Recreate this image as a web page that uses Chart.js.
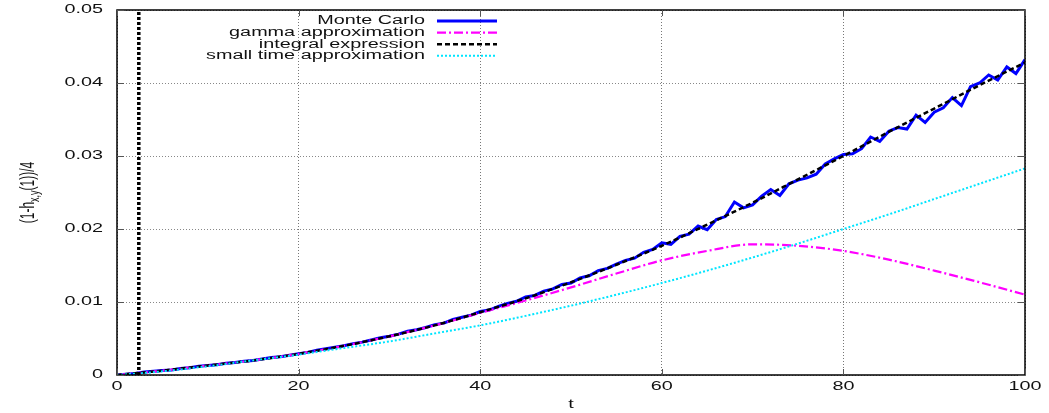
<!DOCTYPE html>
<html>
<head>
<meta charset="utf-8">
<script src="https://cdn.jsdelivr.net/npm/chart.js@4.4.1/dist/chart.umd.min.js"></script>
<style>
  body { margin: 0; background: #fff; }
  canvas { display: block; }
</style>
</head>
<body>
<canvas id="chartHitting" width="1049" height="413"></canvas>
<script>
// Monte Carlo estimate, sampled at t = 0, 1, ..., 100
const mcT = [];
for (let i = 0; i <= 100; i++) mcT.push(i);
const monteCarlo = [
  0.0000, 0.0001, 0.0002, 0.0004, 0.0005, 0.0006, 0.0007, 0.0009, 0.0010, 0.0012,
  0.0013, 0.0014, 0.0016, 0.0017, 0.0019, 0.0020, 0.0022, 0.0024, 0.0025, 0.0027,
  0.0029, 0.0031, 0.0034, 0.0036, 0.0038, 0.0040, 0.0043, 0.0045, 0.0048, 0.0051,
  0.0053, 0.0056, 0.0060, 0.0062, 0.0065, 0.0069, 0.0071, 0.0076, 0.0079, 0.0082,
  0.0087, 0.0089, 0.0094, 0.0098, 0.0101, 0.0107, 0.0109, 0.0115, 0.0118, 0.0124,
  0.0126, 0.0133, 0.0136, 0.0143, 0.0146, 0.0152, 0.0157, 0.0160, 0.0168, 0.0172,
  0.0181, 0.0179, 0.0190, 0.0193, 0.0204, 0.0199, 0.0213, 0.0217, 0.0237, 0.0229,
  0.0233, 0.0245, 0.0254, 0.0246, 0.0262, 0.0267, 0.0270, 0.0275, 0.0289, 0.0296,
  0.0302, 0.0303, 0.0310, 0.0326, 0.0320, 0.0334, 0.0339, 0.0337, 0.0356, 0.0346,
  0.0360, 0.0366, 0.0380, 0.0369, 0.0395, 0.0400, 0.0411, 0.0404, 0.0422, 0.0413,
  0.0432
];

// analytic curves, every 5 time units
const curveT = [0, 5, 10, 15, 20, 25, 30, 35, 40, 45, 50, 55, 60, 65, 70, 75, 80, 85, 90, 95, 100];
const gammaApprox = [0, 0.0006, 0.0013, 0.0020, 0.0029, 0.0040, 0.0053, 0.0068, 0.0085, 0.0102,
  0.0120, 0.0139, 0.0157, 0.0170, 0.0179, 0.0177, 0.0170, 0.0158, 0.0143, 0.0127, 0.0110];
const integralExpr = [0, 0.0006, 0.0013, 0.0020, 0.0029, 0.0040, 0.0053, 0.0068, 0.0086, 0.0105,
  0.0127, 0.0151, 0.0177, 0.0206, 0.0236, 0.0268, 0.0300, 0.0333, 0.0365, 0.0397, 0.0428];
const smallTime = [0, 0.0005, 0.0012, 0.0020, 0.0028, 0.0037, 0.0046, 0.0057, 0.0068, 0.0081,
  0.0095, 0.0110, 0.0126, 0.0143, 0.0161, 0.0180, 0.0200, 0.0220, 0.0241, 0.0262, 0.0283];

// vertical marker line
const markerT = [2.4, 2.4];
const markerY = [0, 0.05];

const xTicks = [0, 20, 40, 60, 80, 100];
const yTicks = [0, 0.01, 0.02, 0.03, 0.04, 0.05];

const pts = (xs, ys) => xs.map((x, i) => ({ x: x, y: ys[i] }));

const FONT = '12px "Liberation Sans", Arial, sans-serif';
const STRETCH = 1.65;

function wideText(ctx, str, x, y, align, base) {
  ctx.save();
  ctx.translate(x, y);
  ctx.scale(STRETCH, 1);
  ctx.textAlign = align;
  ctx.textBaseline = base || 'middle';
  ctx.fillText(str, 0, 0);
  ctx.restore();
}

// border box, inward ticks, tick labels, axis titles, key
const gnuFrame = {
  id: 'gnuFrame',
  afterDraw(chart) {
    const ctx = chart.ctx;
    const a = chart.chartArea;
    const xs = chart.scales.x, ys = chart.scales.y;
    ctx.save();
    ctx.strokeStyle = '#000';
    ctx.lineWidth = 1.5;
    ctx.setLineDash([]);
    ctx.strokeRect(a.left, a.top, a.right - a.left, a.bottom - a.top);

    ctx.lineWidth = 1;
    ctx.strokeStyle = '#555';
    xTicks.forEach(v => {
      const px = Math.round(xs.getPixelForValue(v)) + 0.5;
      ctx.beginPath();
      ctx.moveTo(px, a.bottom); ctx.lineTo(px, a.bottom - 6);
      ctx.moveTo(px, a.top); ctx.lineTo(px, a.top + 6);
      ctx.stroke();
    });
    yTicks.forEach(v => {
      const py = Math.round(ys.getPixelForValue(v)) + 0.5;
      ctx.beginPath();
      ctx.moveTo(a.left, py); ctx.lineTo(a.left + 7, py);
      ctx.moveTo(a.right, py); ctx.lineTo(a.right - 7, py);
      ctx.stroke();
    });

    ctx.fillStyle = '#111';
    ctx.font = FONT;
    xs.ticks.forEach(t => {
      wideText(ctx, String(t.value), xs.getPixelForValue(t.value), a.bottom + 12, 'center');
    });
    ys.ticks.forEach(t => {
      const label = t.value === 0 ? '0' : t.value.toFixed(2);
      wideText(ctx, label, a.left - 14, ys.getPixelForValue(t.value), 'right');
    });

    // axis titles
    wideText(ctx, 't', (a.left + a.right) / 2, a.bottom + 30, 'center');
    ctx.save();
    ctx.translate(34, (a.top + a.bottom) / 2);
    ctx.scale(STRETCH, 1);
    ctx.rotate(-Math.PI / 2);
    ctx.textBaseline = 'alphabetic';
    const parts = [['(1-h', FONT, 0], ['x,y', '9px "Liberation Sans", Arial, sans-serif', 3], ['(1))/4', FONT, 0]];
    let total = 0;
    parts.forEach(p => { ctx.font = p[1]; total += ctx.measureText(p[0]).width; });
    let cx = -total / 2;
    parts.forEach(p => {
      ctx.font = p[1];
      ctx.textAlign = 'left';
      ctx.fillText(p[0], cx, p[2]);
      cx += ctx.measureText(p[0]).width;
    });
    ctx.restore();

    // key, upper middle
    ctx.font = FONT;
    const keyRight = 425, lineL = 437, lineR = 497;
    let row = 0;
    chart.data.datasets.forEach(ds => {
      if (!ds.label) return;
      const y = 21 + row * 11.6;
      ctx.fillStyle = '#111';
      wideText(ctx, ds.label, keyRight, y, 'right');
      ctx.strokeStyle = ds.borderColor;
      ctx.lineWidth = ds.borderWidth;
      ctx.setLineDash(ds.borderDash || []);
      ctx.beginPath();
      ctx.moveTo(lineL, y); ctx.lineTo(lineR, y);
      ctx.stroke();
      row++;
    });
    ctx.restore();
  }
};

const ctx = document.getElementById('chartHitting').getContext('2d');
const chartHitting = new Chart(ctx, {
  type: 'line',
  data: {
    datasets: [
      {
        label: 'Monte Carlo',
        data: pts(mcT, monteCarlo),
        borderColor: '#0000ff',
        borderWidth: 3,
        order: 5
      },
      {
        label: 'gamma approximation',
        data: pts(curveT, gammaApprox),
        borderColor: '#ff00ff',
        borderWidth: 2.2,
        borderDash: [9, 3, 2, 3],
        cubicInterpolationMode: 'monotone',
        order: 4
      },
      {
        label: 'integral expression',
        data: pts(curveT, integralExpr),
        borderColor: '#000000',
        borderWidth: 2.5,
        borderDash: [5, 3],
        cubicInterpolationMode: 'monotone',
        order: 3
      },
      {
        label: 'small time approximation',
        data: pts(curveT, smallTime),
        borderColor: '#00e5ff',
        borderWidth: 2,
        borderDash: [2, 2],
        cubicInterpolationMode: 'monotone',
        order: 2
      },
      {
        label: '',
        data: pts(markerT, markerY),
        borderColor: '#000000',
        borderWidth: 3.5,
        borderDash: [3, 2],
        order: 1
      }
    ]
  },
  options: {
    responsive: false,
    animation: false,
    events: [],
    layout: { padding: { left: 117, right: 24, top: 10, bottom: 38 } },
    elements: { point: { radius: 0 }, line: { tension: 0 } },
    plugins: { legend: { display: false }, tooltip: { enabled: false } },
    scales: {
      x: {
        type: 'linear',
        min: 0, max: 100,
        ticks: { display: false, stepSize: 20 },
        grid: { color: '#777', lineWidth: 1, drawTicks: false },
        border: { display: false, dash: [1, 2] }
      },
      y: {
        min: 0, max: 0.05,
        ticks: { display: false, stepSize: 0.01 },
        grid: { color: '#888', lineWidth: 1, drawTicks: false },
        border: { display: false, dash: [1, 2] }
      }
    }
  },
  plugins: [gnuFrame]
});
</script>
</body>
</html>
